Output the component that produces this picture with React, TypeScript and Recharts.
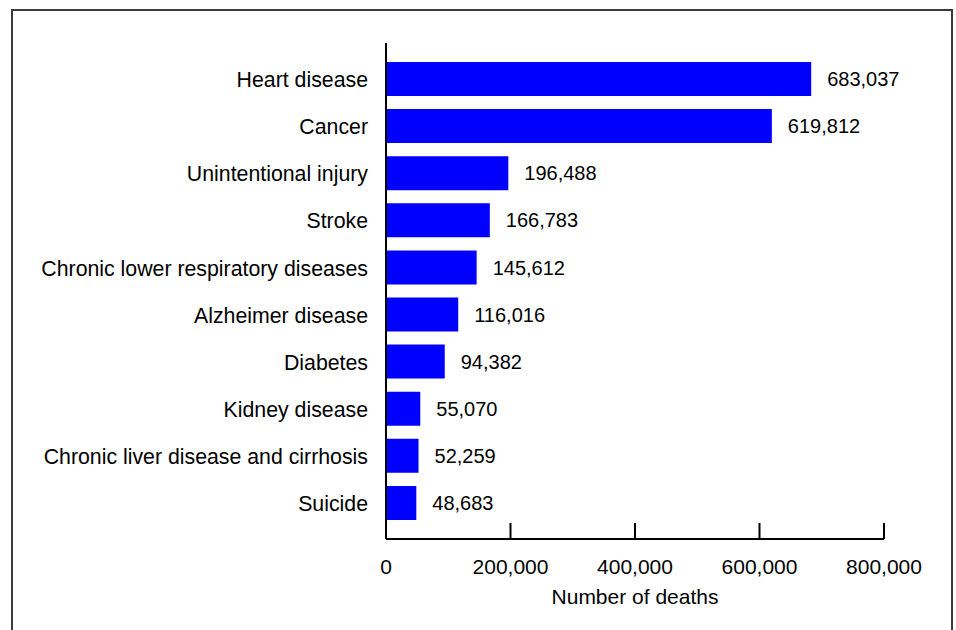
import { BarChart, Bar, XAxis, YAxis, LabelList } from "recharts";

const causes = [
  "Heart disease",
  "Cancer",
  "Unintentional injury",
  "Stroke",
  "Chronic lower respiratory diseases",
  "Alzheimer disease",
  "Diabetes",
  "Kidney disease",
  "Chronic liver disease and cirrhosis",
  "Suicide",
];

const deaths = [683037, 619812, 196488, 166783, 145612, 116016, 94382, 55070, 52259, 48683];

const xTicks = [0, 200000, 400000, 600000, 800000];

const data = causes.map((cause, i) => ({ cause, deaths: deaths[i] }));

const fmt = (v: number) => Number(v).toLocaleString("en-US");

const font = '"Liberation Sans", Arial, sans-serif';

export default function App() {
  return (
    <div
      style={{
        position: "absolute",
        left: 0,
        top: 0,
        width: 956,
        height: 630,
        background: "#fff",
        overflow: "hidden",
        fontFamily: font,
      }}
    >
      <div
        style={{
          position: "absolute",
          left: 11,
          top: 9,
          width: 942,
          height: 660,
          boxSizing: "border-box",
          border: "2px solid #3a3a3a",
        }}
      />
      <div style={{ position: "absolute", left: 0, top: 0 }}>
        <BarChart
          width={956}
          height={630}
          data={data}
          layout="vertical"
          margin={{ top: 43, right: 72, bottom: 10, left: 10 }}
        >
          <XAxis
            type="number"
            domain={[0, 800000]}
            ticks={xTicks}
            tickFormatter={fmt}
            height={81}
            axisLine={{ stroke: "#000", strokeWidth: 2 }}
            tickLine={{ stroke: "#000", strokeWidth: 2 }}
            tickSize={-16}
            tickMargin={36}
            tick={{ fill: "#000", fontSize: 21, fontFamily: font }}
            label={{
              value: "Number of deaths",
              position: "insideBottom",
              offset: 16,
              fill: "#000",
              fontSize: 21,
              fontFamily: font,
            }}
          />
          <YAxis
            type="category"
            dataKey="cause"
            width={376}
            padding={{ top: 12, bottom: 13 }}
            axisLine={{ stroke: "#000", strokeWidth: 2 }}
            tickLine={false}
            tickSize={0}
            tickMargin={18}
            interval={0}
            tick={{ fill: "#000", fontSize: 21.3, fontFamily: font, dy: 1 }}
          />
          <Bar dataKey="deaths" fill="#0000ff" barSize={34} isAnimationActive={false}>
            <LabelList
              dataKey="deaths"
              position="right"
              offset={16}
              formatter={(v: any) => fmt(v)}
              fill="#000"
              fontSize={20}
              fontFamily={font}
            />
          </Bar>
        </BarChart>
      </div>
    </div>
  );
}
